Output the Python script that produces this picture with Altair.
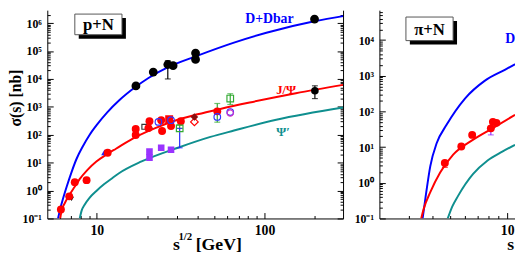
import altair as alt
import pandas as pd

FONT = "Liberation Serif"

# ---------------- p+N panel: curves (sqrt(s) [GeV], sigma [nb]) ----------------
pn_dd_curve_x = [5.866, 6.027, 6.277, 6.624, 7.087, 7.58, 8.22, 9.04, 10.07, 11.53, 13.55, 17.05, 20.32, 26.62, 38.86, 65.8, 102.7, 201.8, 294.5]
pn_dd_curve_y = [0.1, 0.2075, 0.506, 1.452, 4.9, 14.1, 37.2, 98.4, 240, 635, 1680, 5220, 10840, 26500, 64600, 201000, 452000, 1.19e6, 1.79e6]
pn_jpsi_curve_x = [6.03, 6.19, 6.45, 6.8, 7.39, 7.89, 8.79, 9.93, 11.5, 13.0, 17.1, 22.3, 28.5, 39.9, 54.5, 81.6, 154, 294.5]
pn_jpsi_curve_y = [0.1, 0.207, 0.366, 0.645, 1.39, 2.56, 5.53, 11.0, 20.2, 31.6, 83.7, 173, 306, 540, 843, 1430, 3080, 6150]
pn_psip_curve_x = [7.9, 8.11, 8.45, 9.04, 9.93, 11.07, 12.33, 13.55, 18.49, 30.47, 47.6, 65.8, 117.6, 294.5]
pn_psip_curve_y = [0.1, 0.191, 0.311, 0.549, 0.968, 1.708, 2.778, 4.166, 11.02, 34.3, 83.7, 141.7, 345.7, 952]

# ---------------- p+N panel: data points ----------------
pn_dd_x = [17.1, 21.7, 26.5, 28.5, 38.8, 38.8, 199]
pn_dd_y = [5600, 17700, 33000, 30000, 85000, 50000, 1.4e6]
pn_jpsi_x = [6.1, 6.84, 7.38, 8.68, 11.6, 17.05, 17.05, 20.3, 20.6, 24.2, 24.5, 27.7, 31.7, 52.3]
pn_jpsi_y = [0.21, 0.62, 2.0, 2.36, 22.5, 160, 98, 173, 306, 332, 136, 204, 306, 689]
pn_jpsi_sq_x = [27.0]
pn_jpsi_sq_y = [360]
pn_black_hi_x = [200]
pn_black_hi_y = [3780]
pn_psip_x = [20.6, 20.6, 24.2, 27.7]
pn_psip_y = [24.8, 15.2, 34.3, 29.2]
pn_tri_up_x = [11.1]
pn_tri_up_y = [23.5]
pn_tri_down_x = [7.06]
pn_tri_down_y = [0.5]
pn_open_sq_black_x = [19.2]
pn_open_sq_black_y = [193]
pn_tri_right_x = [21.1]
pn_tri_right_y = [173]
pn_open_circ_blue_x = [23.3, 27.7, 52.3, 62.5]
pn_open_circ_blue_y = [289, 332, 434, 650]
pn_open_circ_mag_x = [62.5]
pn_open_circ_mag_y = [600]
pn_open_sq_green_x = [31.2, 62.5]
pn_open_sq_green_y = [169, 1980]
pn_diam_dark_x = [38.2]
pn_diam_dark_y = [434]
pn_diam_open_x = [38.2]
pn_diam_open_y = [289]
# error bars
pn_err_green_x = [31.2, 62.5, 52.3]
pn_err_green_lo = [169, 1216, 282]
pn_err_green_hi = [230, 2950, 1320]
pn_err_blue_x = [31.2]
pn_err_blue_lo = [34]
pn_err_blue_hi = [169]
pn_err_black_x = [26.5, 200]
pn_err_black_lo = [10000, 1980]
pn_err_black_hi = [45000, 5680]

# ---------------- pi+N panel ----------------
pin_dd_curve_x = [3.56, 3.68, 3.91, 4.23, 4.76, 5.97, 7.59, 9.77, 11.0]
pin_dd_curve_y = [0.1, 0.356, 2.94, 13, 41.4, 230, 719, 1490, 2110]
pin_jpsi_curve_x = [3.5, 3.61, 3.91, 4.41, 5.17, 6.57, 8.35, 11.0]
pin_jpsi_curve_y = [0.1, 0.1886, 0.544, 1.934, 6.17, 16.0, 33.6, 80.5]
pin_psip_curve_x = [4.84, 5.11, 5.49, 6.58, 7.87, 9.42, 11.0]
pin_psip_curve_y = [0.1, 0.214, 0.43, 1.74, 4.2, 7.46, 11.6]
pin_jpsi_x = [4.67, 5.71, 6.52, 8.19, 8.4, 8.77]
pin_jpsi_y = [3.6, 10.4, 22, 33.6, 51, 47.9]
pin_err_red_x = [4.67]
pin_err_red_lo = [2.7]
pin_err_red_hi = [3.6]
pin_err_purple_x = [8.19]
pin_err_purple_lo = [22]
pin_err_purple_hi = [30]

# axis ranges / ticks
PN_X = [5.06, 294.5]
PN_Y = [0.1, 2.92e6]
PIN_X = [2.1, 11.0]
PIN_Y = [0.1, 6.9e4]
PN_XLABELS = [10, 100]
PIN_XLABELS = [10]
PN_EXPS = [-1, 0, 1, 2, 3, 4, 5, 6]
PIN_EXPS = [-1, 0, 1, 2, 3, 4]

W1, W2, H = 301, 138, 212

BLUE = "#0000ff"
RED = "#ff0000"
TEAL = "#0f8f8f"

SUP = {"-": "\u207b", "0": "\u2070", "1": "\u00b9", "2": "\u00b2", "3": "\u00b3",
       "4": "\u2074", "5": "\u2075", "6": "\u2076", "7": "\u2077", "8": "\u2078", "9": "\u2079"}


def label_expr(exps):
    parts = []
    for e in exps[:-1]:
        lab = "10" + "".join(SUP[c] for c in str(e))
        parts.append(f"datum.value < {10 ** (e + 0.5)} ? '{lab}' : ")
    last = "10" + "".join(SUP[c] for c in str(exps[-1]))
    return "".join(parts) + f"'{last}'"


def minor_ticks(lo, hi, emin, emax):
    vals = []
    for e in range(emin, emax + 1):
        for m in range(1, 10):
            v = m * 10.0 ** e
            if lo * 0.999 <= v <= hi * 1.001:
                vals.append(v)
    return vals


MAJOR = "abs(log(datum.value)/LN10 - round(log(datum.value)/LN10)) < 0.001"
TS = {"condition": {"test": MAJOR, "value": 6}, "value": 3}


def lab_axis(orient, values, expr=None, title=None, **kw):
    args = dict(orient=orient, values=values, ticks=False, domain=True, domainColor="black",
                domainWidth=1, labelFont=FONT, labelFontWeight="bold", labelColor="black",
                labelOverlap=False, grid=False, title=title)
    if expr:
        args["labelExpr"] = expr
    args.update(kw)
    return alt.Axis(**args)


def tick_axis(orient, values, offset, domain=False):
    return alt.Axis(orient=orient, offset=offset, values=values, ticks=True, tickSize=TS,
                    tickColor="black", tickWidth=1, domain=domain, domainColor="black",
                    labels=False, grid=False, title=None)


def xy(xs, ys):
    return pd.DataFrame({"x": xs, "y": ys})


def curve(xs, ys, color, sx, sy, xaxis=None, yaxis=None):
    return alt.Chart(xy(xs, ys)).mark_line(color=color, strokeWidth=2, interpolate="monotone", clip=True).encode(
        x=alt.X("x:Q", scale=sx, axis=xaxis), y=alt.Y("y:Q", scale=sy, axis=yaxis))


def pts(xs, ys, sx, sy, shape, color, size, filled=True, stroke_width=1.2):
    return alt.Chart(xy(xs, ys)).mark_point(shape=shape, filled=filled, color=color, size=size, opacity=1,
                                           strokeWidth=stroke_width, clip=True).encode(
        x=alt.X("x:Q", scale=sx, axis=None), y=alt.Y("y:Q", scale=sy, axis=None))


def errbars(xs, lo, hi, sx, sy, color):
    d = pd.DataFrame({"x": xs, "lo": lo, "hi": hi})
    base = alt.Chart(d)
    rule = base.mark_rule(color=color, strokeWidth=1.2).encode(
        x=alt.X("x:Q", scale=sx, axis=None), y=alt.Y("lo:Q", scale=sy, axis=None), y2="hi:Q")
    cap_lo = base.mark_tick(color=color, orient="horizontal", size=6, thickness=1.2).encode(
        x=alt.X("x:Q", scale=sx, axis=None), y=alt.Y("lo:Q", scale=sy, axis=None))
    cap_hi = base.mark_tick(color=color, orient="horizontal", size=6, thickness=1.2).encode(
        x=alt.X("x:Q", scale=sx, axis=None), y=alt.Y("hi:Q", scale=sy, axis=None))
    return [rule, cap_lo, cap_hi]


def text_data(x, y, text, sx, sy, color, size, align="center", baseline="middle", clip=False):
    d = pd.DataFrame({"x": [x], "y": [y], "t": [text]})
    return alt.Chart(d).mark_text(font=FONT, fontWeight="bold", fontSize=size, color=color, align=align,
                                  baseline=baseline, clip=clip).encode(
        x=alt.X("x:Q", scale=sx, axis=None), y=alt.Y("y:Q", scale=sy, axis=None), text="t:N")


ONE = pd.DataFrame({"a": [0]})


def text_px(x, y, text, size, align="left", baseline="alphabetic", color="black"):
    return alt.Chart(ONE).mark_text(text=text, font=FONT, fontWeight="bold", fontSize=size, color=color,
                                    align=align, baseline=baseline).encode(x=alt.value(x), y=alt.value(y))


def label_box(x0, y0, x1, y1, text, size):
    shadow = alt.Chart(ONE).mark_rect(fill="black").encode(
        x=alt.value(x0 + 4), x2=alt.value(x1 + 4), y=alt.value(y0 + 4), y2=alt.value(y1 + 4))
    box = alt.Chart(ONE).mark_rect(fill="white", stroke="#555555", strokeWidth=1).encode(
        x=alt.value(x0), x2=alt.value(x1), y=alt.value(y0), y2=alt.value(y1))
    txt = text_px((x0 + x1) / 2, (y0 + y1) / 2 + 1, text, size, align="center", baseline="middle")
    return [shadow, box, txt]


# ---------------- left panel ----------------
sxl = alt.Scale(type="log", domain=PN_X, nice=False)
syl = alt.Scale(type="log", domain=PN_Y, nice=False)
pn_xt = minor_ticks(PN_X[0], PN_X[1], 0, 2)
pn_yt = minor_ticks(PN_Y[0], PN_Y[1], -1, 6)
pn_ymaj = [10.0 ** e for e in PN_EXPS]

left_layers = [
    curve(pn_dd_curve_x, pn_dd_curve_y, BLUE, sxl, syl,
          xaxis=lab_axis("bottom", PN_XLABELS, labelFontSize=14, labelPadding=5),
          yaxis=lab_axis("left", pn_ymaj, expr=label_expr(PN_EXPS), title="\u03c3(s)  [nb]",
                         labelFontSize=12, labelPadding=6, titleFont=FONT, titleFontSize=16,
                         titleFontWeight="bold", titleColor="black", titleX=-32, titleY=89,
                         titleAngle=270, titleBaseline="middle", titleAlign="center")),
    curve(pn_jpsi_curve_x, pn_jpsi_curve_y, RED, sxl, syl,
          xaxis=tick_axis("top", pn_xt, -H), yaxis=tick_axis("right", pn_yt, -W1)),
    curve(pn_psip_curve_x, pn_psip_curve_y, TEAL, sxl, syl,
          xaxis=None, yaxis=tick_axis("left", pn_yt, -W1, domain=True)),
]
left_layers += errbars(pn_err_black_x, pn_err_black_lo, pn_err_black_hi, sxl, syl, "black")
left_layers += errbars(pn_err_green_x, pn_err_green_lo, pn_err_green_hi, sxl, syl, "#33aa33")
left_layers += errbars(pn_err_blue_x, pn_err_blue_lo, pn_err_blue_hi, sxl, syl, "#2222ff")
left_layers += [
    pts(pn_dd_x, pn_dd_y, sxl, syl, "circle", "black", 80),
    pts(pn_psip_x, pn_psip_y, sxl, syl, "square", "#9933ff", 45),
    pts(pn_open_sq_black_x, pn_open_sq_black_y, sxl, syl, "square", "#333333", 25, filled=False),
    pts(pn_tri_right_x, pn_tri_right_y, sxl, syl, "triangle-right", "black", 20),
    pts(pn_tri_down_x, pn_tri_down_y, sxl, syl, "triangle-down", "black", 25),
    pts(pn_tri_up_x, pn_tri_up_y, sxl, syl, "triangle-up", "#2222ff", 45),
    pts(pn_jpsi_x, pn_jpsi_y, sxl, syl, "circle", RED, 65),
    pts(pn_jpsi_sq_x, pn_jpsi_sq_y, sxl, syl, "square", RED, 65),
    pts(pn_black_hi_x, pn_black_hi_y, sxl, syl, "circle", "black", 60),
    pts(pn_diam_open_x, pn_diam_open_y, sxl, syl, "diamond", RED, 60, filled=False),
    pts(pn_diam_dark_x, pn_diam_dark_y, sxl, syl, "diamond", "#8b1010", 60),
    pts(pn_open_circ_blue_x, pn_open_circ_blue_y, sxl, syl, "circle", "#3333ff", 45, filled=False),
    pts(pn_open_circ_mag_x, pn_open_circ_mag_y, sxl, syl, "circle", "#cc33cc", 40, filled=False),
    pts(pn_open_sq_green_x, pn_open_sq_green_y, sxl, syl, "square", "#33aa33", 45, filled=False),
    text_data(107, 1.41e6, "D+Dbar", sxl, syl, BLUE, 14),
    text_data(134.6, 4100, "J/\u03a8", sxl, syl, RED, 13),
    text_data(129, 126, "\u03a8\u2032", sxl, syl, TEAL, 13),
    text_px(128, 244, "s", 18),
    text_px(133.5, 234, "1/2", 11),
    text_px(151, 244, "[GeV]", 18),
]
left_layers += label_box(28, 4, 76, 25, "p+N", 17)

left = alt.layer(*left_layers).resolve_axis(x="independent", y="independent").properties(width=W1, height=H)

# ---------------- right panel ----------------
sxr = alt.Scale(type="log", domain=PIN_X, nice=False)
syr = alt.Scale(type="log", domain=PIN_Y, nice=False)
pin_xt = minor_ticks(PIN_X[0], PIN_X[1], 0, 1)
pin_yt = minor_ticks(PIN_Y[0], PIN_Y[1], -1, 4)
pin_ymaj = [10.0 ** e for e in PIN_EXPS]

right_layers = [
    curve(pin_dd_curve_x, pin_dd_curve_y, BLUE, sxr, syr,
          xaxis=lab_axis("bottom", PIN_XLABELS, labelFontSize=14, labelPadding=5),
          yaxis=lab_axis("left", pin_ymaj, expr=label_expr(PIN_EXPS), labelFontSize=12, labelPadding=6)),
    curve(pin_jpsi_curve_x, pin_jpsi_curve_y, RED, sxr, syr,
          xaxis=tick_axis("top", pin_xt, -H), yaxis=tick_axis("right", pin_yt, -W2)),
    curve(pin_psip_curve_x, pin_psip_curve_y, TEAL, sxr, syr),
]
right_layers += errbars(pin_err_red_x, pin_err_red_lo, pin_err_red_hi, sxr, syr, RED)
right_layers += errbars(pin_err_purple_x, pin_err_purple_lo, pin_err_purple_hi, sxr, syr, "#9933ff")
right_layers += [
    pts(pin_jpsi_x, pin_jpsi_y, sxr, syr, "circle", RED, 65),
    text_data(9.76, 11000, "D+Dbar", sxr, syr, BLUE, 14, align="left", clip=True),
    text_px(130, 244, "s", 18),
]
right_layers += label_box(27, 7, 75, 31, "\u03c0+N", 17)

right = alt.layer(*right_layers).resolve_axis(x="independent", y="independent").properties(width=W2, height=H)

chart = alt.hconcat(left, right, spacing=37, bounds="flush").properties(
    padding=0, background="white"
).configure_view(strokeWidth=0)

chart.save("out.html", embed_options={"renderer": "svg", "actions": False})
